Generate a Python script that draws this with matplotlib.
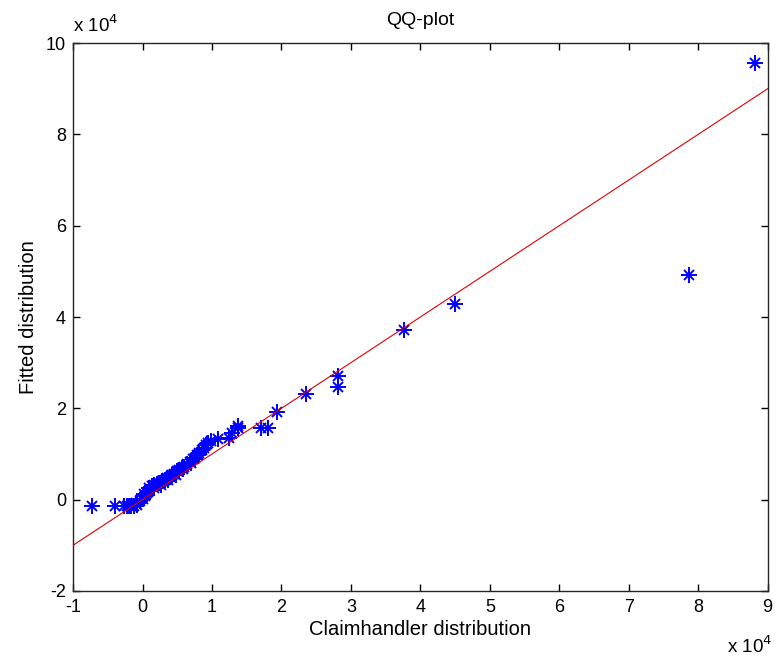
import matplotlib.pyplot as plt
from matplotlib.ticker import FuncFormatter

plt.rcParams['font.family'] = ['Liberation Sans', 'DejaVu Sans']

# quantiles (raw units)
claim_q = [-7200, -3900, -2600, -2300, -1900, -1600, -1200, -800, -400, 0,
           300, 700, 1000, 1400, 1700, 2100, 2400, 2800, 3200, 3500,
           3900, 4300, 4600, 5000, 5300, 5700, 6000, 6400, 6800, 7200,
           7500, 7900, 8200, 8500, 8900, 9100, 9400, 9800,
           -1000, 200, 900, 1600, 2600, 3700, 4800, 5900, 7000, 8000,
           10800, 12500, 12900, 13800, 13700, 17100, 18000, 19300,
           23600, 28100, 28100, 37600, 45000, 78700, 88200]
fitted_q = [-1500, -1500, -1300, -1500, -1500, -1500, -1300, -1100, -400, 200,
            800, 1500, 2600, 2900, 3300, 3500, 3700, 4100, 4400, 4700,
            5000, 5400, 5700, 6200, 6600, 6900, 7200, 7700, 8300, 8800,
            9200, 9700, 10300, 10900, 11400, 11900, 12300, 12900,
            -700, 1300, 2000, 2500, 3100, 4300, 5400, 6700, 8100, 9700,
            13200, 13400, 14500, 15800, 16200, 15800, 15800, 19100,
            23200, 27000, 24600, 37100, 42800, 49300, 95600]

line_x = [-10000, 90000]
line_y = [-10000, 90000]

x_ticks = [-10000, 0, 10000, 20000, 30000, 40000, 50000, 60000, 70000, 80000, 90000]
y_ticks = [-20000, 0, 20000, 40000, 60000, 80000, 100000]

fig = plt.figure(figsize=(7.77, 6.57), dpi=100)
ax = fig.add_axes([0.094, 0.1005, 0.894, 0.834])

ax.plot(claim_q, fitted_q, linestyle='none', marker='+', color='#0000ff',
        markersize=12, markeredgewidth=1.4)
ax.plot(claim_q, fitted_q, linestyle='none', marker='x', color='#0000ff',
        markersize=7, markeredgewidth=1.4)
ax.plot(line_x, line_y, color='#e00000', linewidth=0.8)

ax.set_xlim(-10000, 90000)
ax.set_ylim(-20000, 100000)
ax.set_xticks(x_ticks)
ax.set_yticks(y_ticks)
fmt = FuncFormatter(lambda v, pos: f'{v / 1e4:g}')
ax.xaxis.set_major_formatter(fmt)
ax.yaxis.set_major_formatter(fmt)
ax.tick_params(direction='in', length=5, width=1, top=True, right=True,
               labelsize=13)
ax.tick_params(axis='x', pad=6)
ax.tick_params(axis='y', pad=5)
for s in ax.spines.values():
    s.set_linewidth(1.0)
    s.set_color('#262626')

ax.set_title('QQ-plot', fontsize=14, pad=13)
ax.set_xlabel('Claimhandler distribution', fontsize=14.5, labelpad=3)
ax.set_ylabel('Fitted distribution', fontsize=14.5, labelpad=6)

fig.text(73 / 777, 1 - 32 / 657, 'x 10$^{4}$', fontsize=13.5,
         ha='left', va='baseline')
fig.text(772 / 777, 1 - 653 / 657, 'x 10$^{4}$', fontsize=13.5,
         ha='right', va='baseline')

fig.savefig('out.png', dpi=100, facecolor='white')
